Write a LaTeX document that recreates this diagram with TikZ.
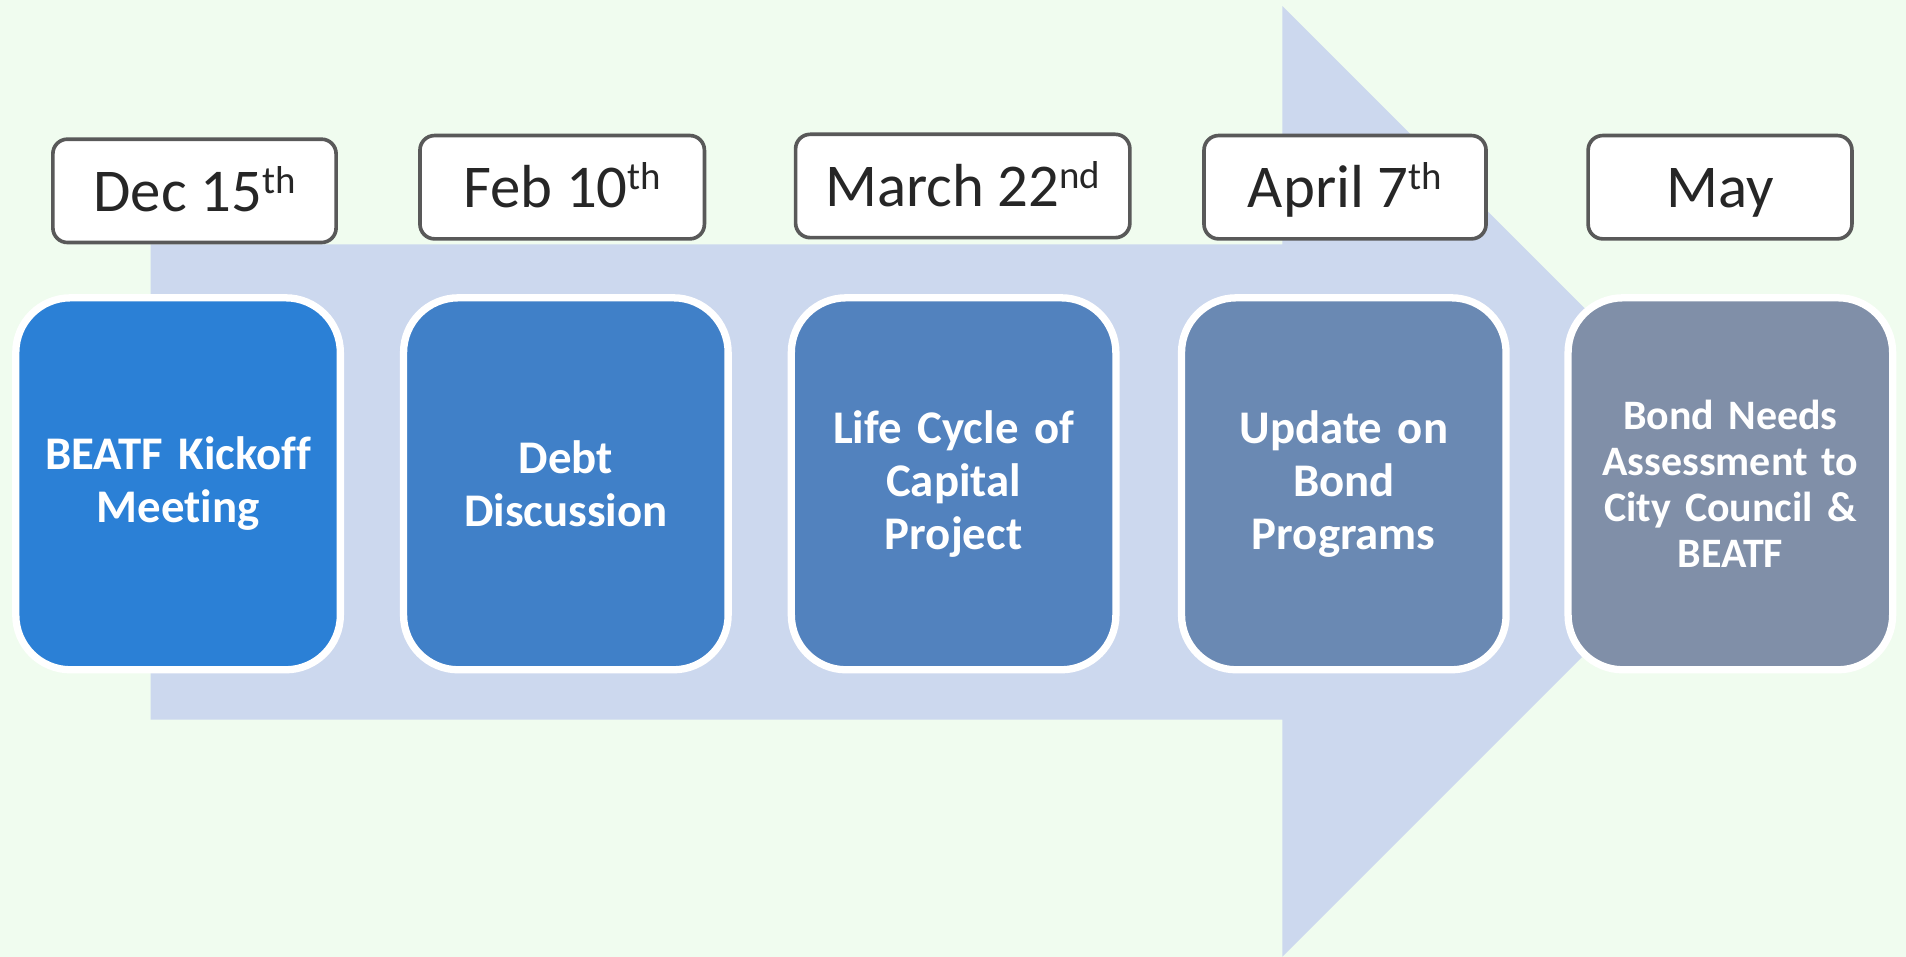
\documentclass[tikz,border=0pt]{standalone}
\usepackage{fontspec}
\setmainfont{Carlito}[Ligatures={NoCommon}]
\definecolor{bgc}{RGB}{240,252,239}
\definecolor{arrowc}{RGB}{204,216,238}
\definecolor{cA}{RGB}{43,128,214}
\definecolor{cB}{RGB}{64,128,200}
\definecolor{cC}{RGB}{82,130,190}
\definecolor{cD}{RGB}{106,137,179}
\definecolor{cE}{RGB}{128,143,168}
\definecolor{dborder}{RGB}{89,89,89}
\definecolor{dtext}{RGB}{38,38,38}
\newcommand{\supx}[1]{\raisebox{15pt}{\fontsize{32}{32}\selectfont #1}}
\begin{document}
\begin{tikzpicture}[x=1pt,y=-1pt,
  datebox/.style={draw=dborder, line width=3pt, fill=white, rounded corners=12pt,
    minimum height=85pt, inner sep=0pt, text=dtext, text height=34pt, text depth=0pt,
    font=\fontsize{50}{60}\selectfont},
  stepbox/.style={draw=white, line width=6pt, rounded corners=45pt,
    minimum width=267pt, minimum height=306pt, inner sep=0pt, text=white,
    align=center, text width=250pt,
    font=\bfseries\fontsize{38.5}{43.5}\selectfont}]
\useasboundingbox (0,0) rectangle (1568,787);
\fill[bgc] (0,0) rectangle (1568,787);
% big arrow
\fill[arrowc] (124,201) -- (1055,201) -- (1055,5) -- (1446,396) -- (1055,787)
  -- (1055,592) -- (124,592) -- cycle;
% step boxes
\node[stepbox, fill=cA] (b1) at (146.5,398) {BEATF Kickoff\\Meeting};
\node[stepbox, fill=cB] (b2) at (465.5,398) {Debt\\Discussion};
\node[stepbox, fill=cC] (b3) at (784.5,398) {Life Cycle of\\Capital\\Project};
\node[stepbox, fill=cD] (b4) at (1105.5,398) {Update on\\Bond\\Programs};
\node[stepbox, fill=cE, font=\bfseries\fontsize{34.5}{38}\selectfont] (b5) at (1423.5,398)
  {Bond Needs\\Assessment to\\City Council \&\\BEATF};
% date boxes
\node[datebox, minimum width=233pt] (d1) at (160,157) {Dec 15\supx{th}};
\node[datebox, minimum width=234pt] (d2) at (462.5,154) {Feb 10\supx{th}};
\node[datebox, minimum width=275pt] (d3) at (792,153) {March 22\supx{nd}};
\node[datebox, minimum width=232pt] (d4) at (1106.5,154) {April 7\supx{th}};
\node[datebox, minimum width=217pt] (d5) at (1415,154) {May};
\end{tikzpicture}
\end{document}
